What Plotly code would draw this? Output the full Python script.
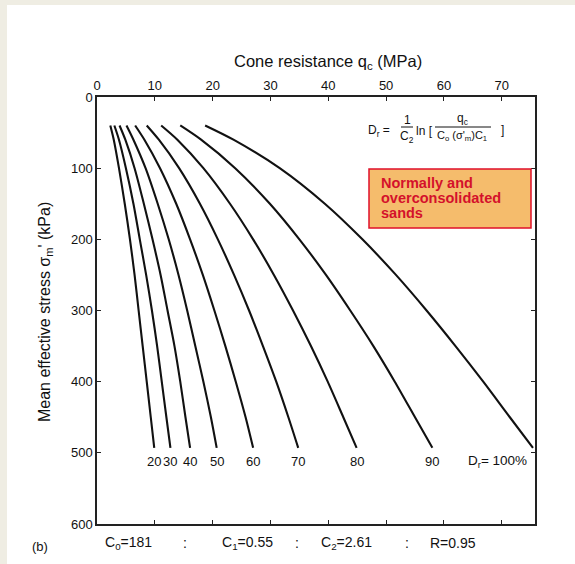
import plotly.graph_objects as go

# ---- data ----
stress_kpa = [40, 60, 100, 150, 200, 250, 300, 350, 400, 450, 493]
dr_labels = ["20", "30", "40", "50", "60", "70", "80", "90", "100"]
qc_dr20 = [2.3, 2.9, 3.8, 4.8, 5.7, 6.5, 7.2, 7.9, 8.6, 9.3, 9.9]
qc_dr30 = [3.0, 3.8, 5.0, 6.3, 7.4, 8.5, 9.5, 10.4, 11.2, 12.0, 12.7]
qc_dr40 = [3.9, 4.9, 6.5, 8.1, 9.6, 11.0, 12.2, 13.4, 14.4, 15.3, 16.1]
qc_dr50 = [5.1, 6.3, 8.4, 10.5, 12.4, 14.1, 15.6, 17.0, 18.4, 19.7, 20.7]
qc_dr60 = [6.6, 8.2, 10.9, 13.7, 16.1, 18.3, 20.3, 22.2, 24.0, 25.7, 27.0]
qc_dr70 = [8.6, 10.7, 14.2, 17.8, 20.9, 23.7, 26.3, 28.7, 31.0, 33.1, 34.8]
qc_dr80 = [11.1, 13.9, 18.4, 23.0, 27.0, 30.6, 33.9, 37.0, 39.9, 42.6, 44.9]
qc_dr90 = [14.4, 18.0, 23.9, 29.9, 35.0, 39.6, 43.8, 47.8, 51.5, 55.0, 58.0]
qc_dr100 = [18.7, 23.6, 31.6, 39.4, 45.9, 51.7, 57.0, 62.0, 66.8, 71.4, 75.4]
series = [qc_dr20, qc_dr30, qc_dr40, qc_dr50, qc_dr60, qc_dr70, qc_dr80, qc_dr90, qc_dr100]
label_stress = 512
x_ticks = [0, 10, 20, 30, 40, 50, 60, 70]
y_ticks = [0, 100, 200, 300, 400, 500, 600]
constants = ["C<sub>0</sub>=181", ":", "C<sub>1</sub>=0.55", ":", "C<sub>2</sub>=2.61", ":", "R=0.95"]
box_lines = ["Normally and", "overconsolidated", "sands"]

W, H = 575, 564
ML, MR, MT, MB = 97, 40, 97, 40
PW, PH = W - ML - MR, H - MT - MB


def px(x):
    return (x - ML) / PW


def py(y):
    return (H - MB - y) / PH


FONT = "Liberation Sans, Arial, Helvetica, sans-serif"
fig = go.Figure()
for vals in series:
    fig.add_trace(go.Scatter(x=vals, y=stress_kpa, mode="lines",
                             line=dict(color="#111111", width=2.1, shape="spline", smoothing=0.8),
                             showlegend=False, hoverinfo="skip"))

ann = []


def pa(x, y, text, size, xanchor="center", **kw):
    ann.append(dict(x=px(x), y=py(y), xref="paper", yref="paper", text=text,
                    xanchor=xanchor, yanchor="middle", showarrow=False,
                    font=dict(size=size, color=kw.pop("color", "#111"), family=FONT), **kw))


# curve labels
for lab, vals in zip(dr_labels[:-1], series[:-1]):
    ann.append(dict(x=vals[-1], y=label_stress, xref="x", yref="y", text=lab,
                    xanchor="center", yanchor="middle",
                    showarrow=False, font=dict(size=13, color="#111")))
ann.append(dict(x=69.2, y=label_stress, xref="x", yref="y", text="D<sub>r</sub>= 100%",
                xanchor="center", yanchor="middle",
                showarrow=False, font=dict(size=13.5, color="#111")))

# titles
pa(328, 62, "Cone resistance q<sub>c</sub> (MPa)", 16.5)
ann.append(dict(x=px(45), y=py(312), xref="paper", yref="paper",
                text="Mean effective stress σ<sub>m</sub>' (kPa)", textangle=-90,
                xanchor="center", yanchor="middle", showarrow=False,
                font=dict(size=16, color="#111", family=FONT)))

# bottom constants line
const_x = [128, 185, 247, 297, 346, 407, 453]
for t, xx in zip(constants, const_x):
    pa(xx, 543, t, 14)
pa(40, 546, "(b)", 13)

# formula
pa(366, 131, "D<sub>r</sub> =", 12, xanchor="left")
pa(407, 120, "1", 12)
pa(407, 137, "C<sub>2</sub>", 12)
pa(414, 131, "ln [", 12, xanchor="left")
pa(462, 119, "q<sub>c</sub>", 12)
pa(462, 136, "C<sub>o</sub> (σ'<sub>m</sub>)C<sub>1</sub>", 11)
pa(502, 130, "]", 12)

# red-bordered box text
for t, yy in zip(box_lines, [183, 198, 213]):
    pa(379, yy, "<b>" + t + "</b>", 14.5, xanchor="left", color="#d4112b")

shapes = [
    dict(type="rect", xref="paper", yref="paper", x0=px(0), x1=px(7), y0=py(H), y1=py(0),
         fillcolor="#efede3", line=dict(width=0), layer="below"),
    dict(type="rect", xref="paper", yref="paper", x0=px(0), x1=px(W), y0=py(5), y1=py(0),
         fillcolor="#efede3", line=dict(width=0), layer="below"),
    dict(type="rect", xref="paper", yref="paper", x0=px(369), x1=px(531), y0=py(228), y1=py(169),
         fillcolor="#f5bc6c", line=dict(color="#e0102a", width=1.5)),
    dict(type="line", xref="paper", yref="paper", x0=px(401), x1=px(413), y0=py(127), y1=py(127),
         line=dict(color="#111", width=1)),
    dict(type="line", xref="paper", yref="paper", x0=px(435), x1=px(491), y0=py(127), y1=py(127),
         line=dict(color="#111", width=1)),
]

fig.update_layout(
    width=W, height=H, margin=dict(l=ML, r=MR, t=MT, b=MB),
    paper_bgcolor="white", plot_bgcolor="white",
    font=dict(family=FONT, color="#111"),
    annotations=ann, shapes=shapes,
    xaxis=dict(range=[0, 75.75], side="top", tickvals=x_ticks, ticks="inside", ticklen=4,
               tickcolor="#222", showline=True, linecolor="#222", linewidth=1.5, mirror="ticks",
               showgrid=False, zeroline=False, tickfont=dict(size=13)),
    yaxis=dict(range=[600, 0], tickvals=y_ticks, ticks="inside", ticklen=4,
               tickcolor="#222", showline=True, linecolor="#222", linewidth=1.5, mirror="ticks",
               showgrid=False, zeroline=False, tickfont=dict(size=13)),
)

fig.write_html("out.html")
